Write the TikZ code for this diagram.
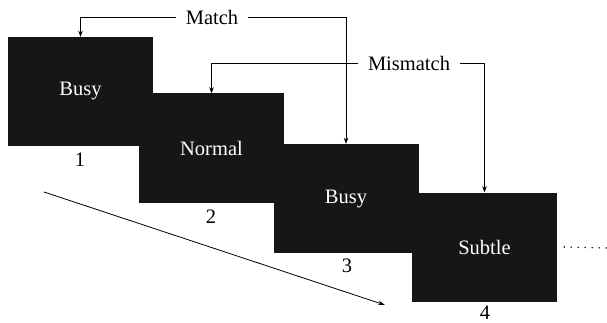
\documentclass[tikz,border=0pt]{standalone}
\usepackage{fontspec}
\setmainfont{Liberation Serif}
\usetikzlibrary{arrows.meta,positioning}
\definecolor{scrn}{HTML}{161616}

\begin{document}
\begin{tikzpicture}[x=1pt, y=-1pt,
      every node/.style = {font=\fontsize{20.5}{24}\selectfont},
      screen/.style = {fill=scrn, text=white, minimum width=145pt, minimum height=109pt, inner sep=0pt},
      num/.style = {inner sep=0pt},
      cue/.style = {inner xsep=10pt, inner ysep=0pt},
      link/.style = {line width=0.8pt, -{Stealth[length=6pt, width=4.5pt]}}]
      \useasboundingbox (0,0) rectangle (607,323);
      % screens in the sequence
      \node[screen] (b1) at (80.5,91.5) {Busy};
      \node[screen] (b2) at (211.5,148) {Normal};
      \node[screen] (b3) at (346,198.5) {Busy};
      \node[screen] (b4) at (484.5,247) {Subtle};
      \node[num] (n1) at (80,160) {1};
      \node[num] (n2) at (211,217) {2};
      \node[num] (n3) at (347,266) {3};
      \node[num] (n4) at (485,312.5) {4};
      % match / mismatch cues
      \node[cue] (match) at (212,17) {Match};
      \node[cue] (mismatch) at (409,63) {Mismatch};
      \draw[link] (match.west |- 0,17) -| (b1.north);
      \draw[link] (match.east |- 0,17) -| (b3.north);
      \draw[link] (mismatch.west |- 0,63) -| (b2.north);
      \draw[link] (mismatch.east |- 0,63) -| (b4.north);
      % time axis and more screens
      \coordinate (tstart) at (44,192);
      \coordinate (tend) at (385,305);
      \draw[line width=0.8pt, -{Stealth[length=7pt, width=4.5pt]}] (tstart) -- (tend);
      \coordinate (more) at (607,248);
      \draw[line width=1.6pt, line cap=round, dash pattern=on 0pt off 7pt] ([xshift=7pt]b4.east) -- (more);
\end{tikzpicture}
\end{document}
